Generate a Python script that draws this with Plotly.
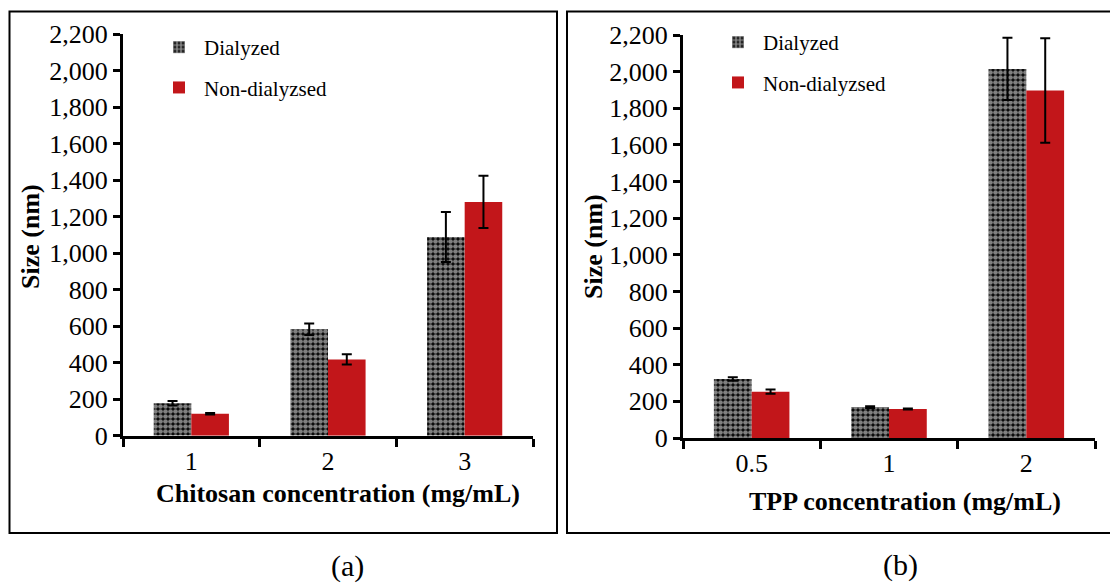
import plotly.graph_objects as go

# Particle size (nm) versus chitosan concentration (mg/mL)
chitosan_conc = ["1", "2", "3"]
chitosan_dialyzed = [178, 583, 1088]
chitosan_dialyzed_err = [12, 32, 137]
chitosan_nondialyzed = [120, 418, 1280]
chitosan_nondialyzed_err = [4, 28, 143]

# Particle size (nm) versus TPP concentration (mg/mL)
tpp_conc = ["0.5", "1", "2"]
tpp_dialyzed = [322, 169, 2015]
tpp_dialyzed_err = [10, 5, 170]
tpp_nondialyzed = [253, 158, 1897]
tpp_nondialyzed_err = [12, 3, 285]

series_names = ["Dialyzed", "Non-dialyzsed"]
y_ticks = list(range(0, 2201, 200))

W, H = 1110, 585
SERIF = "Liberation Serif"
RED = "#C2161A"


def px(x):
    return x / W


def py(y):
    return (H - y) / H


dial_pattern = dict(shape=".", fgcolor="white", bgcolor="black", size=5, solidity=0.7)
err_style = dict(type="data", color="black", thickness=2, width=5, visible=True)

fig = go.Figure()

panels = [
    ("x", "y", "legend", chitosan_conc, chitosan_dialyzed, chitosan_dialyzed_err,
     chitosan_nondialyzed, chitosan_nondialyzed_err),
    ("x2", "y2", "legend2", tpp_conc, tpp_dialyzed, tpp_dialyzed_err,
     tpp_nondialyzed, tpp_nondialyzed_err),
]
for i, (xa, ya, lg, cats, dv, de, nv, ne) in enumerate(panels):
    fig.add_trace(go.Bar(
        x=cats, y=dv, name=series_names[0], xaxis=xa, yaxis=ya, legend=lg,
        legendgroup=f"d{i}",
        marker=dict(color="black", pattern=dial_pattern, line=dict(width=0)),
        error_y=dict(array=de, **err_style),
    ))
    fig.add_trace(go.Bar(
        x=cats, y=nv, name=series_names[1], xaxis=xa, yaxis=ya, legend=lg,
        legendgroup=f"n{i}",
        marker=dict(color=RED, line=dict(width=0)),
        error_y=dict(array=ne, **err_style),
    ))

x_common = dict(
    type="category", showline=True, linecolor="black", linewidth=3,
    ticks="outside", tickson="boundaries", ticklen=8, tickwidth=3, tickcolor="black",
    tickfont=dict(family=SERIF, size=26, color="black"), showgrid=False,
    zeroline=False, range=[-0.5, 2.5], fixedrange=True, automargin=False,
)
y_common = dict(
    range=[0, 2200], tickvals=y_ticks, tickformat=",", showline=True,
    linecolor="black", linewidth=3, ticks="outside", ticklen=7, tickwidth=3,
    tickcolor="black", tickfont=dict(family=SERIF, size=26, color="black"),
    showgrid=False, zeroline=False, fixedrange=True, automargin=False,
)

legend_common = dict(
    font=dict(family=SERIF, size=21, color="black"), bgcolor="rgba(0,0,0,0)",
    xanchor="left", yanchor="top", tracegroupgap=10, traceorder="grouped",
    itemwidth=40,
)

fig.update_layout(
    width=W, height=H,
    margin=dict(l=0, r=0, t=0, b=0, pad=0, autoexpand=False),
    paper_bgcolor="white", plot_bgcolor="rgba(0,0,0,0)",
    font=dict(family=SERIF, color="black"),
    separators=".,", barmode="group", bargap=0.45, bargroupgap=0,
    showlegend=True,
    xaxis=dict(domain=[px(123), px(533)], anchor="y", **x_common),
    yaxis=dict(domain=[py(435.7), py(34)], anchor="x", **y_common),
    xaxis2=dict(domain=[px(683), px(1095)], anchor="y2", **x_common),
    yaxis2=dict(domain=[py(438), py(35)], anchor="x2", **y_common),
    legend=dict(x=px(154), y=py(27), **legend_common),
    legend2=dict(x=px(713), y=py(22), **legend_common),
)

# Panel frames
fig.add_shape(type="rect", xref="paper", yref="paper",
              x0=px(9.5), x1=px(557), y0=py(533), y1=py(11.5),
              line=dict(color="black", width=2), fillcolor="rgba(0,0,0,0)", layer="below")
fig.add_shape(type="rect", xref="paper", yref="paper",
              x0=px(567), x1=px(1125), y0=py(533), y1=py(11.5),
              line=dict(color="black", width=2), fillcolor="rgba(0,0,0,0)", layer="below")

title_font = dict(family=SERIF, size=26, color="black")
annots = [
    (px(338), py(493), "<b>Chitosan concentration (mg/mL)</b>", 0),
    (px(905), py(501), "<b>TPP concentration (mg/mL)</b>", 0),
    (px(30), py(237), "<b>Size (nm)</b>", -90),
    (px(593), py(247), "<b>Size (nm)</b>", -90),
]
for x, y, text, ang in annots:
    fig.add_annotation(x=x, y=y, xref="paper", yref="paper", text=text,
                       showarrow=False, textangle=ang, font=title_font,
                       xanchor="center", yanchor="middle")

panel_font = dict(family=SERIF, size=30, color="black")
fig.add_annotation(x=px(347), y=0, xref="paper", yref="paper", text="(a)",
                   showarrow=False, font=panel_font, xanchor="center", yanchor="bottom")
fig.add_annotation(x=px(900), y=py(565), xref="paper", yref="paper", text="(b)",
                   showarrow=False, font=panel_font, xanchor="center", yanchor="middle")

fig.write_html("out.html")
